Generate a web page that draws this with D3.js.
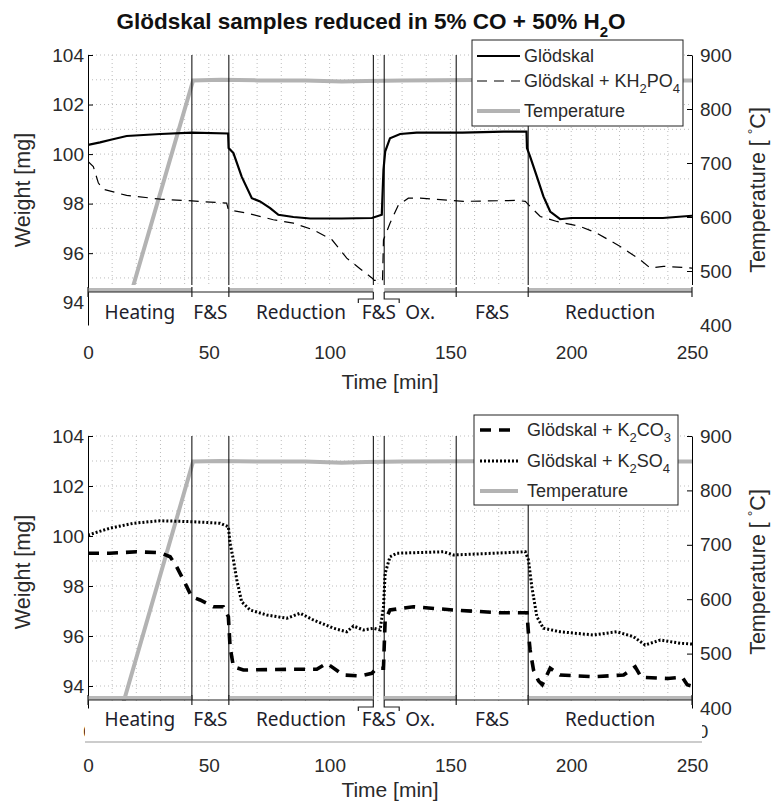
<!DOCTYPE html>
<html lang="en">
<head>
<meta charset="utf-8">
<title>Glödskal samples reduced in 5% CO + 50% H2O</title>
<script src="https://d3js.org/d3.v7.min.js"></script>
<style>
    html, body {
        margin: 0;
        padding: 0;
        background: #fff;
    }
    text {
        font-family: "Liberation Sans", Arial, sans-serif;
        fill: #2a2a2a;
    }
    .tick text {
        font-size: 19px;
    }
    .phase {
        font-family: "Noto Sans", "Open Sans", sans-serif;
        font-size: 19px;
        fill: #1e1e2c;
    }
    .grid line {
        stroke: #bdbdbd;
        stroke-dasharray: 1,3;
    }
    .legend text {
        font-size: 18px;
    }
</style>
</head>
<body>
<script>

var w = 779, h = 803;
var left = 88, right = 692;

// [time min, weight mg]
var glodskal = [[0,100.37],[5,100.47],[9,100.57],[16,100.73],[30,100.81],[43,100.87],[58,100.83],[58.2,100.24],
    [60.2,100.04],[63.6,99.09],[67.8,98.22],[71.2,98.09],[75.4,97.82],[78.8,97.55],[85,97.46],[92,97.40],[105,97.40],
    [117.5,97.42],[121.6,97.55],[122.3,99.36],[123,100.1],[125,100.64],[129.2,100.81],[136,100.87],[155,100.87],
    [172,100.91],[181.5,100.91],[181.7,100.24],[183,99.9],[185.8,99.09],[188.5,98.29],[191.3,97.68],[195.4,97.37],
    [200,97.42],[238,97.42],[250,97.51]];

var kh2po4 = [[0,99.7],[2.2,99.5],[4.3,98.83],[6.3,98.58],[16,98.33],[30,98.18],[43,98.11],[57.4,98.02],[58.1,97.75],
    [65.7,97.62],[76.7,97.35],[85,97.21],[93.3,96.94],[101,96.54],[107.1,95.8],[112.6,95.37],[117.5,95.0],[118.5,94.9],
    [121.9,94.9],[122.3,96.54],[125,97.21],[128.5,97.95],[132.6,98.22],[137.5,98.22],[155.4,98.09],[177.5,98.13],
    [181,98.09],[183,97.89],[187.2,97.48],[194.1,97.28],[203.7,97.08],[210.6,96.81],[220.3,96.27],[228.6,95.73],
    [232.7,95.40],[238.2,95.47],[250,95.40]];

var k2co3 = [[0,99.31],[9,99.31],[20.2,99.37],[29.8,99.33],[34,99.17],[36.7,98.77],[40.2,98.11],[42.9,97.57],
    [46.4,97.44],[51.9,97.17],[56,97.17],[58.1,96.77],[58.8,95.57],[60.2,94.77],[64.3,94.64],[85,94.67],[94.7,94.67],
    [98.8,94.91],[105.7,94.44],[112.6,94.4],[117.5,94.51],[119.5,94.71],[122.3,94.71],[122.6,95.57],[123,96.64],
    [125,97.04],[134.7,97.17],[151.3,97.04],[170.6,96.93],[181.7,96.93],[182.3,96.11],[183,95.44],[184.4,94.64],
    [186.5,94.2],[188,94.05],[191.3,94.71],[195.4,94.44],[209.2,94.37],[221.7,94.44],[226.5,94.77],[229,94.35],
    [240,94.3],[246,94.35],[248,94.05],[250,94.0]];

var k2so4 = [[0,100.04],[9,100.31],[18.8,100.51],[29.8,100.61],[43.6,100.57],[54.7,100.51],[58.1,100.37],[58.8,99.71],
    [60.2,99.04],[61.6,98.24],[63.6,97.37],[67.1,97.04],[74,96.84],[82.3,96.71],[87.8,96.91],[93.3,96.64],[101.6,96.31],
    [107.1,96.17],[109.9,96.4],[114,96.24],[118.1,96.31],[120.9,96.24],[122.3,97.17],[123,98.51],[125,99.17],
    [127.8,99.31],[147.1,99.37],[151.3,99.24],[167.8,99.31],[181,99.37],[182.3,99.04],[183.7,97.97],[185.8,96.77],
    [188.5,96.31],[195.4,96.17],[209.2,96.04],[218.9,96.17],[225.8,95.97],[230.6,95.64],[236.9,95.84],[245.1,95.71],
    [250,95.68]];

// [time min, temperature C]
var temperature = [[14,400],[43.5,853],[55,854],[70,853],[90,853],[105,851],[115,852],[130,853],[160,853.5],
    [200,853],[250,853]];

var phaseNames = ["Heating", "F&S", "Reduction", "F&S", "Ox.", "F&S", "Reduction"];
var phaseEdges = [0, 43, 58.3, 118.1, 122.6, 152.4, 182.2, 250];
var bandPhases = [0, 2, 4, 6];

var weightTicks = [94, 96, 98, 100, 102, 104];
var tempTicks = [400, 500, 600, 700, 800, 900];
var timeTicks = [0, 50, 100, 150, 200, 250];
var coveredTicks = [0, 250];   // remnants peeking out under the pasted phase strip

var titleText = "Glödskal samples reduced in 5% CO + 50% H_2O";
var legendTop = ["Glödskal", "Glödskal + KH_2PO_4", "Temperature"];
var legendBottom = ["Glödskal + K_2CO_3", "Glödskal + K_2SO_4", "Temperature"];

var x = d3.scaleLinear().domain([0, 250]).range([left, right]);

var svg = d3.select("body").append("svg")
    .attr("width", w)
    .attr("height", h);

// text with _n subscripts
function rich(sel, str, subSize, shift) {
    var parts = str.split(/_(\d)/);
    parts.forEach(function(p, i) {
        if (p === "") return;
        var t = sel.append("tspan").text(p);
        if (i % 2 == 1) {
            t.attr("dy", shift).style("font-size", subSize + "px");
        } else if (i > 0) {
            t.attr("dy", -shift);
        }
    });
}

var styles = {
    glod: {stroke: "#000", width: 2.2, dash: null},
    kh: {stroke: "#000", width: 1.2, dash: "10,7"},
    co3: {stroke: "#000", width: 3.6, dash: "11,8"},
    so4: {stroke: "#000", width: 3, dash: "2,2"},
    temp: {stroke: "#b3b3b3", width: 4, dash: null}
};

function styled(sel, s) {
    sel.attr("fill", "none")
        .attr("stroke", s.stroke)
        .attr("stroke-width", s.width)
        .attr("stroke-dasharray", s.dash);
}

svg.append("text")
    .attr("x", 371).attr("y", 29)
    .attr("text-anchor", "middle")
    .style("font-size", "22.5px")
    .style("font-weight", "bold")
    .style("fill", "#111")
    .call(rich, titleText, 15, 8);

function drawPanel(p) {
    var yW = d3.scaleLinear().domain([p.wMin, 104]).range([p.bottom, p.top]);
    var yT = d3.scaleLinear().domain([400, 900]).range([p.bottom, p.top]);
    var g = svg.append("g");
    var clipId = "clip" + p.top;

    svg.append("clipPath").attr("id", clipId)
        .append("rect")
        .attr("x", left).attr("y", p.top)
        .attr("width", right - left).attr("height", p.bottom - p.top);

    // grid
    var grid = g.append("g").attr("class", "grid");
    grid.selectAll(".gh").data(d3.range(94, 105)).enter().append("line")
        .attr("x1", left).attr("x2", right)
        .attr("y1", d => yW(d)).attr("y2", d => yW(d));
    grid.selectAll(".gv").data(d3.range(10, 250, 10)).enter().append("line")
        .attr("x1", d => x(d)).attr("x2", d => x(d))
        .attr("y1", p.top).attr("y2", p.bottom);

    var tline = d3.line().x(d => x(d[0])).y(d => yT(d[1]));
    var wline = d3.line().x(d => x(d[0])).y(d => yW(d[1]));

    g.append("path").datum(temperature)
        .attr("d", tline)
        .attr("clip-path", "url(#" + clipId + ")")
        .call(styled, styles.temp);

    p.series.forEach(function(s) {
        g.append("path").datum(s.data)
            .attr("d", wline)
            .attr("clip-path", "url(#" + clipId + ")")
            .call(styled, s.style);
    });

    // phase boundaries
    g.selectAll(".pl").data(phaseEdges.slice(1, -1)).enter().append("line")
        .attr("x1", d => x(d)).attr("x2", d => x(d))
        .attr("y1", p.top).attr("y2", p.bar)
        .attr("stroke", "#000").attr("stroke-width", 1);

    function xLabels(y, ticks) {
        var ax = g.append("g").attr("transform", "translate(0," + y + ")")
            .call(d3.axisBottom(x).tickValues(ticks).tickSize(0).tickPadding(0));
        ax.select(".domain").remove();
        ax.selectAll(".tick text").attr("dy", "0.35em").style("fill", "#2a2a2a");
    }

    function axes() {
        var yAxisL = d3.axisLeft(yW).tickValues(weightTicks).tickSizeInner(-5).tickSizeOuter(0).tickPadding(4);
        var gl = g.append("g").attr("transform", "translate(" + left + ",0)").call(yAxisL);
        var yAxisR = d3.axisRight(yT).tickValues(tempTicks).tickSizeInner(-5).tickSizeOuter(0).tickPadding(8);
        var gr = g.append("g").attr("transform", "translate(" + right + ",0)").call(yAxisR);
        [gl, gr].forEach(function(a) {
            a.select(".domain").attr("stroke", "#000");
            a.selectAll(".tick line").attr("stroke", "#000");
            a.selectAll(".tick text").style("fill", "#2a2a2a");
        });
        gr.selectAll(".tick").filter(d => d == 400).select("line").remove();
    }

    if (!p.axesOnTop) axes();
    if (p.hiddenLabels) xLabels(p.hiddenLabels, coveredTicks);

    // phase overlay
    g.append("rect")
        .attr("x", p.ovX0).attr("y", p.ovY0)
        .attr("width", p.ovX1 - p.ovX0).attr("height", p.ovY1 - p.ovY0)
        .attr("fill", "#fff");
    if (p.ovBorder) {
        g.append("line")
            .attr("x1", p.ovX0).attr("x2", p.ovX1)
            .attr("y1", p.ovY1).attr("y2", p.ovY1)
            .attr("stroke", "#9a9a9a").attr("stroke-width", 1.2);
    }
    if (p.axesOnTop) axes();

    // phase bar
    var bar = g.append("g");
    var br = phaseNames.map((n, i) => [phaseEdges[i], phaseEdges[i + 1]]);
    bar.selectAll(".band").data(bandPhases).enter().append("rect")
        .attr("x", d => x(br[d][0])).attr("width", d => x(br[d][1]) - x(br[d][0]))
        .attr("y", p.bar - 4).attr("height", 4)
        .attr("fill", "#b8b8b8");
    bar.append("line")
        .attr("x1", x(phaseEdges[0])).attr("x2", x(phaseEdges[3]))
        .attr("y1", p.bar).attr("y2", p.bar).attr("stroke", "#222").attr("stroke-width", 1.2);
    bar.append("line")
        .attr("x1", x(phaseEdges[4])).attr("x2", x(phaseEdges[7]))
        .attr("y1", p.bar).attr("y2", p.bar).attr("stroke", "#222").attr("stroke-width", 1.2);
    bar.selectAll(".bt").data([0, 1, 2, 5, 6, 7].map(i => phaseEdges[i])).enter().append("line")
        .attr("x1", d => x(d)).attr("x2", d => x(d))
        .attr("y1", p.bar - 5).attr("y2", p.bar + 5)
        .attr("stroke", "#222").attr("stroke-width", 1.2);
    // bracket for the short F&S
    var bx0 = x(phaseEdges[3]), bx1 = x(phaseEdges[4]);
    bar.append("path")
        .attr("d", "M" + bx0 + "," + p.bar + "V" + (p.bar + 7) + "H" + (bx0 - 15) + "V" + (p.bar + 11) +
            "M" + bx1 + "," + p.bar + "V" + (p.bar + 7) + "H" + (bx1 + 15) + "V" + (p.bar + 11))
        .attr("fill", "none").attr("stroke", "#222").attr("stroke-width", 1.2);

    bar.selectAll(".phase").data(phaseNames).enter().append("text")
        .attr("class", "phase")
        .attr("x", (d, i) => x((phaseEdges[i] + phaseEdges[i + 1]) / 2))
        .attr("y", p.labelY)
        .attr("dy", "0.36em")
        .attr("text-anchor", "middle")
        .text(d => d);

    xLabels(p.tickY, timeTicks);

    g.append("text")
        .attr("x", (left + right) / 2).attr("y", p.timeY)
        .attr("dy", "0.35em")
        .attr("text-anchor", "middle")
        .style("font-size", "21px")
        .text("Time [min]");

    var mid = (p.top + p.bottom) / 2;
    g.append("text")
        .attr("transform", "translate(22," + mid + ") rotate(-90)")
        .attr("dy", "0.35em")
        .attr("text-anchor", "middle")
        .style("font-size", "21.5px")
        .text("Weight [mg]");
    var rt = g.append("text")
        .attr("transform", "translate(757," + mid + ") rotate(-90)")
        .attr("dy", "0.35em")
        .attr("text-anchor", "middle")
        .style("font-size", "21.5px");
    rt.append("tspan").text("Temperature [ ");
    rt.append("tspan").attr("dy", -7).style("font-size", "14px").text("°");
    rt.append("tspan").attr("dy", 7).text("C]");

    // legend
    var L = p.legend;
    var lg = svg.append("g").attr("class", "legend");
    lg.append("rect")
        .attr("x", L.x0).attr("y", L.y0)
        .attr("width", L.x1 - L.x0).attr("height", L.y1 - L.y0)
        .attr("fill", "#fff").attr("stroke", "#222").attr("stroke-width", 1);
    L.labels.forEach(function(lab, i) {
        var y = L.rows[i];
        lg.append("line")
            .attr("x1", L.sx0).attr("x2", L.sx1)
            .attr("y1", y).attr("y2", y)
            .call(styled, L.styles[i]);
        lg.append("text")
            .attr("x", L.tx).attr("y", y)
            .attr("dy", "0.35em")
            .call(rich, lab, 13, 6);
    });
}

drawPanel({
    top: 55, bottom: 325, bar: 292, wMin: 93.1,
    series: [{data: kh2po4, style: styles.kh}, {data: glodskal, style: styles.glod}],
    ovX0: 89, ovX1: 696, ovY0: 285, ovY1: 331, ovBorder: false,
    labelY: 312, tickY: 352, timeY: 382,
    legend: {x0: 472, x1: 683, y0: 40, y1: 126, rows: [56, 81, 111], sx0: 477, sx1: 520, tx: 524,
        labels: legendTop, styles: [styles.glod, styles.kh, styles.temp]}
});

drawPanel({
    top: 436, bottom: 708, bar: 700, wMin: 93.12,
    series: [{data: k2co3, style: styles.co3}, {data: k2so4, style: styles.so4}],
    hiddenLabels: 731, axesOnTop: true,
    ovX0: 85, ovX1: 702, ovY0: 701, ovY1: 742, ovBorder: true,
    labelY: 719, tickY: 765, timeY: 790,
    legend: {x0: 474, x1: 678, y0: 415, y1: 505, rows: [430, 461, 491], sx0: 480, sx1: 518, tx: 527,
        labels: legendBottom, styles: [styles.co3, styles.so4, styles.temp]}
});

</script>
</body>
</html>
